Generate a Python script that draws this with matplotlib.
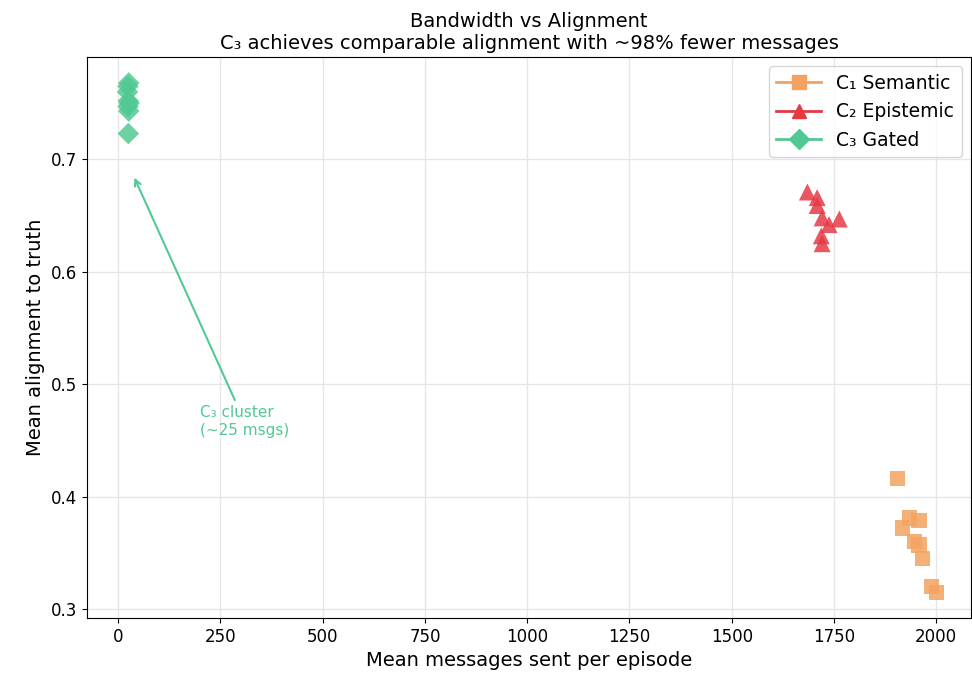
import matplotlib
matplotlib.use("Agg")
import matplotlib.pyplot as plt
from matplotlib.lines import Line2D

# values
c1_msgs = [1905, 1934, 1958, 1917, 1946, 1958, 1966, 1988, 2000]
c1_align = [0.416, 0.381, 0.379, 0.372, 0.360, 0.357, 0.345, 0.320, 0.315]

c2_msgs = [1685, 1709, 1709, 1721, 1738, 1763, 1719, 1721]
c2_align = [0.671, 0.666, 0.659, 0.648, 0.642, 0.647, 0.632, 0.625]

c3_msgs = [26, 24, 23, 25, 27, 24, 26, 25]
c3_align = [0.768, 0.765, 0.760, 0.752, 0.750, 0.747, 0.743, 0.723]

labels = ["C₁ Semantic", "C₂ Epistemic", "C₃ Gated"]
colors = ["#F4A261", "#E63946", "#52C993"]
markers = ["s", "^", "D"]
sizes = [120, 150, 120]

fig = plt.figure(figsize=(9.72, 6.84), dpi=100)
ax = fig.add_axes([0.0895, 0.0965, 0.9095, 0.82])

series = [(c1_msgs, c1_align), (c2_msgs, c2_align), (c3_msgs, c3_align)]
for (xs, ys), c, m, s in zip(series, colors, markers, sizes):
    ax.scatter(xs, ys, s=s, marker=m, color=c, alpha=0.85, edgecolors="none", zorder=3)

ax.annotate("C₃ cluster\n(~25 msgs)", xy=(37, 0.686), xytext=(200, 0.455),
            fontsize=11, color=colors[2],
            arrowprops=dict(arrowstyle="->", color=colors[2], lw=1.5))

ax.set_xlim(-76, 2085)
ax.set_ylim(0.292, 0.791)
ax.set_xticks([0, 250, 500, 750, 1000, 1250, 1500, 1750, 2000])
ax.set_yticks([0.3, 0.4, 0.5, 0.6, 0.7])
ax.tick_params(labelsize=12)
ax.grid(True, color="#e6e6e6", lw=1)
ax.set_axisbelow(True)

ax.set_xlabel("Mean messages sent per episode", fontsize=14)
ax.set_ylabel("Mean alignment to truth", fontsize=14)
ax.set_title("Bandwidth vs Alignment\nC₃ achieves comparable alignment with ~98% fewer messages",
             fontsize=14)

handles = [Line2D([], [], color=c, marker=m, markersize=10, lw=2)
           for c, m in zip(colors, markers)]
ax.legend(handles, labels, loc="upper right", fontsize=13.5, handlelength=2.4)

fig.savefig("out.png")
